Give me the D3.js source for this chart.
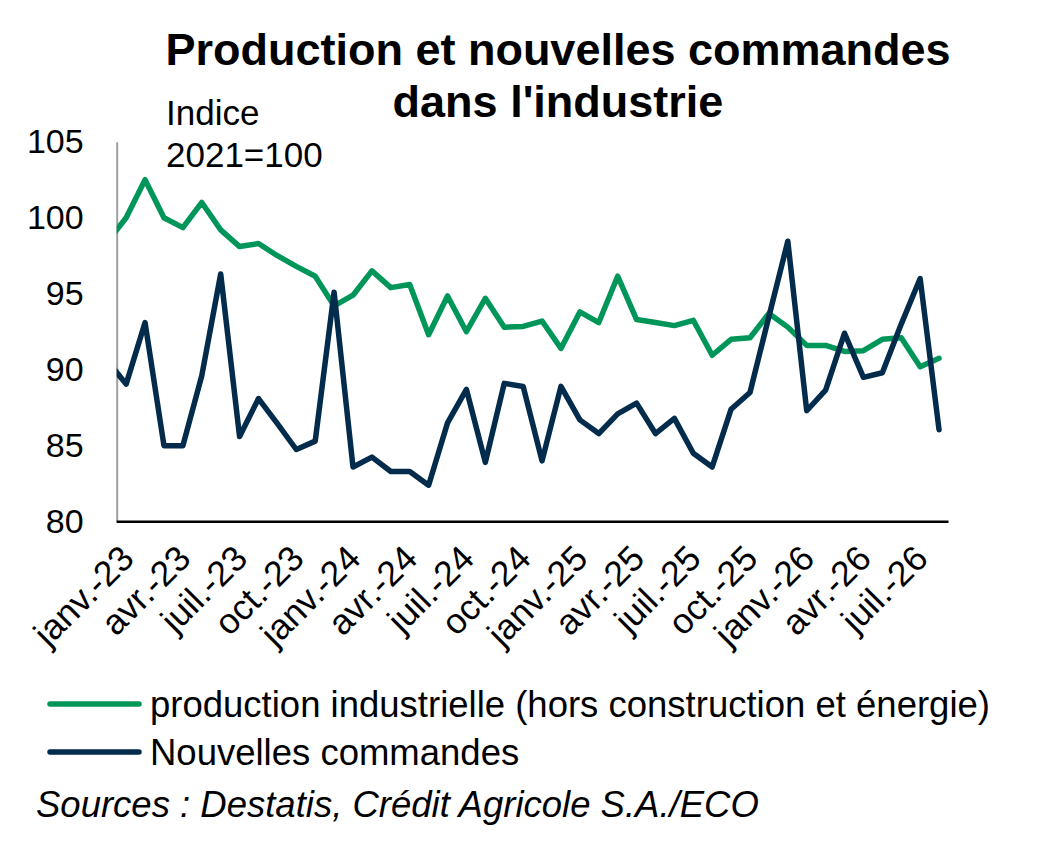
<!DOCTYPE html>
<html>
<head>
<meta charset="utf-8">
<script src="https://cdn.jsdelivr.net/npm/d3@7"></script>
<style>
  body { margin: 0; background: #fff; }
  text { font-family: 'Liberation Sans', Arial, sans-serif; }
</style>
</head>
<body>
<main></main>
<script>
const width = 1040
const height = 846

// months, déc.-22 is only partly visible (clipped by the y axis)
const months = [
  'déc.-22',
  'janv.-23', 'févr.-23', 'mars-23', 'avr.-23', 'mai-23', 'juin-23', 'juil.-23', 'août-23', 'sept.-23', 'oct.-23', 'nov.-23', 'déc.-23',
  'janv.-24', 'févr.-24', 'mars-24', 'avr.-24', 'mai-24', 'juin-24', 'juil.-24', 'août-24', 'sept.-24', 'oct.-24', 'nov.-24', 'déc.-24',
  'janv.-25', 'févr.-25', 'mars-25', 'avr.-25', 'mai-25', 'juin-25', 'juil.-25', 'août-25', 'sept.-25', 'oct.-25', 'nov.-25', 'déc.-25',
  'janv.-26', 'févr.-26', 'mars-26', 'avr.-26', 'mai-26', 'juin-26', 'juil.-26', 'août-26'
]

const tickLabels = ['janv.-23', 'avr.-23', 'juil.-23', 'oct.-23', 'janv.-24', 'avr.-24', 'juil.-24', 'oct.-24',
  'janv.-25', 'avr.-25', 'juil.-25', 'oct.-25', 'janv.-26', 'avr.-26', 'juil.-26']

const production = [
  98.4,
  100.0, 102.5, 100.0, 99.35, 101.0, 99.2, 98.1, 98.3, 97.5, 96.8, 96.15, 94.2,
  94.9, 96.5, 95.4, 95.6, 92.3, 94.85, 92.5, 94.7, 92.8, 92.85, 93.2, 91.4,
  93.8, 93.1, 96.15, 93.3, 93.1, 92.9, 93.25, 90.95, 92.0, 92.1, 93.7, 92.8,
  91.6, 91.6, 91.2, 91.25, 92.0, 92.1, 90.2, 90.75
]

const commandes = [
  90.6,
  89.05, 93.1, 85.0, 85.0, 89.6, 96.3, 85.6, 88.1, 86.45, 84.75, 85.3, 95.1,
  83.6, 84.25, 83.3, 83.3, 82.4, 86.5, 88.7, 83.9, 89.1, 88.9, 84.0, 88.9,
  86.7, 85.8, 87.1, 87.8, 85.8, 86.8, 84.5, 83.6, 87.4, 88.5, 93.5, 98.45,
  87.3, 88.65, 92.4, 89.5, 89.8, 93.0, 96.0, 86.05
]

const yTicks = [80, 85, 90, 95, 100, 105]

const seriesNames = ['production industrielle (hors construction et énergie)', 'Nouvelles commandes']
const colors = ['#00965a', '#022b4c']

const plot = { left: 116.7, right: 948.5, top: 141.7, bottom: 521.7 }

const svg = d3.select('main')
  .append('svg')
  .attr('width', width)
  .attr('height', height)

const xScale = d3.scaleLinear()
  .domain([0.5, months.length - 0.5])
  .range([plot.left, plot.right])

const yScale = d3.scaleLinear()
  .domain([80, 105])
  .range([plot.bottom, plot.top])

// Title
svg.append('text')
  .attr('x', 558)
  .attr('y', 65)
  .attr('text-anchor', 'middle')
  .style('font-size', '45px')
  .style('font-weight', 'bold')
  .text('Production et nouvelles commandes')

svg.append('text')
  .attr('x', 558)
  .attr('y', 117)
  .attr('text-anchor', 'middle')
  .style('font-size', '45px')
  .style('font-weight', 'bold')
  .text("dans l'industrie")

// Unit
svg.append('text')
  .attr('x', 166)
  .attr('y', 125)
  .style('font-size', '35px')
  .text('Indice')

svg.append('text')
  .attr('x', 166)
  .attr('y', 167)
  .style('font-size', '35px')
  .text('2021=100')

// y-axis
const yAxis = d3.axisLeft(yScale)
  .tickValues(yTicks)
  .tickSize(0)
  .tickPadding(33)

svg.append('g')
  .attr('transform', `translate(${plot.left}, 0)`)
  .call(yAxis)
  .call(g => g.select('.domain').attr('stroke', '#a0a0a0').attr('stroke-width', 2))
  .call(g => g.selectAll('text')
    .style('font-size', '34px')
    .style('font-family', "'Liberation Sans', Arial, sans-serif")
    .attr('fill', '#000'))

// x-axis line
svg.append('line')
  .attr('x1', plot.left)
  .attr('x2', plot.right)
  .attr('y1', plot.bottom)
  .attr('y2', plot.bottom)
  .attr('stroke', '#000')
  .attr('stroke-width', 2.5)

// x labels
svg.append('g')
  .selectAll('text')
  .data(tickLabels)
  .enter()
  .append('text')
  .attr('transform', d => `translate(${xScale(months.indexOf(d)) + 1}, ${plot.bottom + 30}) rotate(-45)`)
  .attr('text-anchor', 'end')
  .attr('dy', '0.35em')
  .style('font-size', '35.5px')
  .text(d => d)

// Lines
svg.append('clipPath')
  .attr('id', 'plot-clip')
  .append('rect')
  .attr('x', plot.left)
  .attr('y', 0)
  .attr('width', plot.right - plot.left + 10)
  .attr('height', height)

const line = d3.line()
  .x((d, i) => xScale(i))
  .y(d => yScale(d))

svg.append('g')
  .attr('clip-path', 'url(#plot-clip)')
  .selectAll('path')
  .data([production, commandes])
  .enter()
  .append('path')
  .attr('d', line)
  .attr('fill', 'none')
  .attr('stroke', (d, i) => colors[i])
  .attr('stroke-width', 5.5)
  .attr('stroke-linejoin', 'round')
  .attr('stroke-linecap', 'round')

// Legend
const legend = svg.append('g')
  .selectAll('g')
  .data(seriesNames)
  .enter()
  .append('g')
  .attr('transform', (d, i) => `translate(0, ${704 + i * 48})`)

legend.append('line')
  .attr('x1', 50)
  .attr('x2', 139)
  .attr('stroke', (d, i) => colors[i])
  .attr('stroke-width', 5.5)
  .attr('stroke-linecap', 'round')

legend.append('text')
  .attr('x', 150)
  .attr('dy', '0.35em')
  .style('font-size', '36.5px')
  .text(d => d)

// Source
svg.append('text')
  .attr('x', 36)
  .attr('y', 817)
  .style('font-size', '36.5px')
  .style('font-style', 'italic')
  .text('Sources : Destatis, Crédit Agricole S.A./ECO')
</script>
</body>
</html>
